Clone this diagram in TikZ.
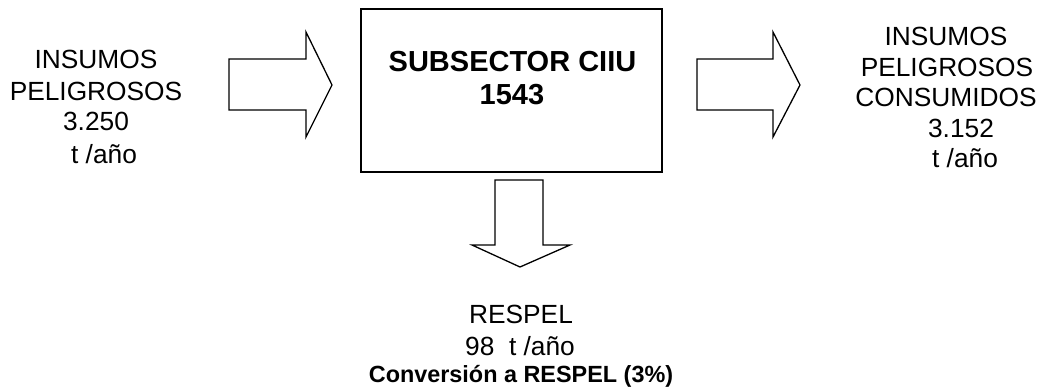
\documentclass[tikz,border=0pt]{standalone}
\usepackage{fontspec}
\setmainfont{Liberation Sans}
\begin{document}
\begin{tikzpicture}[x=1pt,y=-1pt,
  txt/.style={inner sep=0pt,anchor=base,font=\fontsize{26.3}{30}\selectfont},
  btxt/.style={inner sep=0pt,anchor=base,font=\fontsize{29}{33}\selectfont\bfseries},
  stxt/.style={inner sep=0pt,anchor=base,font=\fontsize{23.4}{27}\selectfont\bfseries},
  arrowshape/.style={draw=black,line width=1.3pt,line join=miter,fill=white},
  boxshape/.style={draw=black,line width=1.8pt,fill=white}]
\useasboundingbox (0,0) rectangle (1042,389);
% central box
\node[boxshape,minimum width=301pt,minimum height=163pt,inner sep=0pt] (box) at (511.5,90.5) {};
\node[btxt] (b1) at (512.5,71) {SUBSECTOR CIIU};
\node[btxt] (b2) at (512,104) {1543};
% left arrow
\draw[arrowshape] (229,59) -- (306,59) -- (306,32) -- (332,85) -- (306,137) -- (306,110) -- (229,110) -- cycle;
% right arrow
\draw[arrowshape] (697,59) -- (773,59) -- (773,32) -- (800,85) -- (773,137) -- (773,110) -- (697,110) -- cycle;
% down arrow
\draw[arrowshape] (495,180) -- (543,180) -- (543,245) -- (570,245) -- (520,267) -- (472,245) -- (495,245) -- cycle;
% left text
\node[txt] (l1) at (96,68) {INSUMOS};
\node[txt] (l2) at (96,100) {PELIGROSOS};
\node[txt] (l3) at (96,130) {3.250};
\node[txt] (l4) at (104,163) {t /año};
% right text
\node[txt] (r1) at (946,45) {INSUMOS};
\node[txt] (r2) at (947,76) {PELIGROSOS};
\node[txt] (r3) at (946,106) {CONSUMIDOS};
\node[txt] (r4) at (961,137) {3.152};
\node[txt] (r5) at (965,167) {t /año};
% bottom text
\node[txt] (d1) at (521,323) {RESPEL};
\node[txt] (d2) at (520,355) {98\ \ t /año};
\node[stxt] (d3) at (521,382) {Conversión a RESPEL (3\%)};
\end{tikzpicture}
\end{document}
